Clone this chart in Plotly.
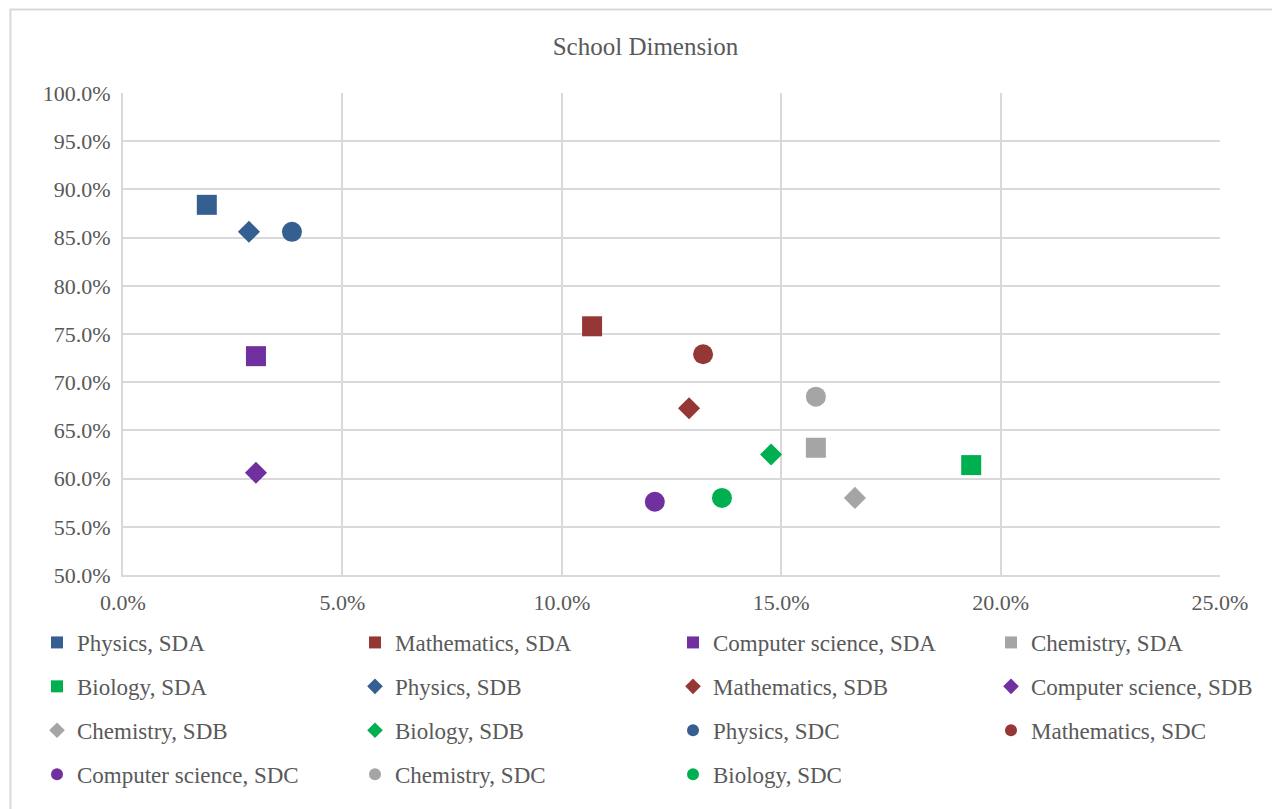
import plotly.graph_objects as go

subjects = ["Physics", "Mathematics", "Computer science", "Chemistry", "Biology"]
colors = {"Physics": "#355F91", "Mathematics": "#953735", "Computer science": "#7030A0",
          "Chemistry": "#A5A5A5", "Biology": "#00B050"}

# x = share (%), y = percentage (%)
sda_x = [1.91, 10.69, 3.03, 15.79, 19.33]
sda_y = [88.4, 75.8, 72.7, 63.2, 61.4]
sdb_x = [2.87, 12.90, 3.03, 16.68, 14.77]
sdb_y = [85.6, 67.3, 60.6, 58.0, 62.5]
sdc_x = [3.85, 13.22, 12.12, 15.79, 13.65]
sdc_y = [85.6, 72.9, 57.6, 68.5, 58.0]

groups = [("SDA", sda_x, sda_y, "square", 20), ("SDB", sdb_x, sdb_y, "diamond", 17), ("SDC", sdc_x, sdc_y, "circle", 20)]

legend_names = ["legend", "legend2", "legend3", "legend4"]

fig = go.Figure()
k = 0
for gname, xs, ys, sym, sz in groups:
    for s, xv, yv in zip(subjects, xs, ys):
        fig.add_trace(go.Scatter(
            x=[xv / 100], y=[yv / 100], mode="markers", name=f"{s}, {gname}",
            legend=legend_names[k % 4], legendgroup=f"g{k}",
            marker=dict(symbol=sym, size=sz, color=colors[s], line=dict(width=0))))
        k += 1

font = "Liberation Serif, Times New Roman, serif"
L, T = 115, 85
W = 1097
def px_to_paper_x(fx):
    return (fx - L) / W

leg_common = dict(orientation="v", y=-0.0954, yanchor="top", xanchor="left",
                  font=dict(family=font, size=23, color="#595959"), traceorder="grouped",
                  tracegroupgap=11, itemwidth=30, itemsizing="constant", bgcolor="rgba(0,0,0,0)")
col_px = [29, 347, 665, 983]

fig.update_layout(
    width=1280, height=809,
    margin=dict(l=L, r=1280 - L - W, t=T, b=242),
    paper_bgcolor="white", plot_bgcolor="white",
    font=dict(family=font, size=22, color="#595959"),
    title=dict(text="School Dimension", x=0.498, xanchor="center", y=0.953, yanchor="middle",
               font=dict(family=font, size=25, color="#595959")),
    xaxis=dict(range=[0, 0.25], dtick=0.05, tickformat=".1%", showgrid=True, gridcolor="#D9D9D9",
               gridwidth=2, zeroline=False, showline=True, linecolor="#D9D9D9", linewidth=2,
               ticks="", tickfont=dict(size=22), ticklabelstandoff=7),
    yaxis=dict(range=[0.5, 1.0], dtick=0.05, tickformat=".1%", showgrid=True, gridcolor="#D9D9D9",
               gridwidth=2, zeroline=False, showline=True, linecolor="#D9D9D9", linewidth=2,
               ticks="", tickfont=dict(size=22), ticklabelstandoff=6),
    legend=dict(x=px_to_paper_x(col_px[0]), **leg_common),
    legend2=dict(x=px_to_paper_x(col_px[1]), **leg_common),
    legend3=dict(x=px_to_paper_x(col_px[2]), **leg_common),
    legend4=dict(x=px_to_paper_x(col_px[3]), **leg_common),
    showlegend=True,
)
fig.add_shape(type="rect", xref="paper", yref="paper", x0=-0.1026, x1=1.2, y0=-0.6, y1=1.1733,
              line=dict(color="#D9D9D9", width=2), layer="below")
fig.write_html("out.html")
